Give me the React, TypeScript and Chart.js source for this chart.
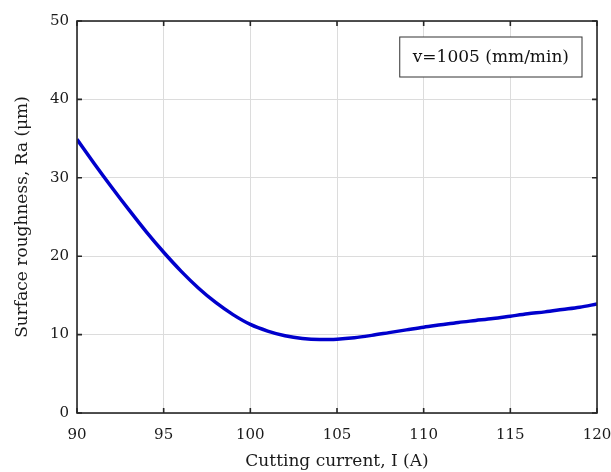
import React, { useEffect, useRef } from "react";
import { Chart, registerables } from "chart.js";

Chart.register(...registerables);

const currents = [90, 91, 92, 93, 94, 95, 96, 97, 98, 99, 100, 101, 102, 103, 104, 105, 106, 107, 108, 109, 110, 111, 112, 113, 114, 115, 116, 117, 118, 119, 120];
const roughness = [34.9, 31.8, 28.8, 25.9, 23.1, 20.5, 18.1, 15.95, 14.1, 12.55, 11.3, 10.45, 9.85, 9.5, 9.38, 9.42, 9.6, 9.9, 10.25, 10.6, 10.95, 11.25, 11.55, 11.8, 12.05, 12.35, 12.65, 12.9, 13.2, 13.5, 13.9];
const xTicks = [90, 95, 100, 105, 110, 115, 120];
const yTicks = [0, 10, 20, 30, 40, 50];
const legendText = "v=1005 (mm/min)";
const xTitle = "Cutting current, I (A)";
const yTitle = "Surface roughness, Ra (\u03bcm)";

const FONT = "'DejaVu Serif', serif";

const framePlugin = {
  id: "frame",
  afterDraw(chart: any) {
    const { ctx, chartArea } = chart;
    const { left, right, top, bottom } = chartArea;
    const xs = chart.scales.x;
    const ys = chart.scales.y;
    ctx.save();
    ctx.strokeStyle = "#262626";
    ctx.lineWidth = 1.6;
    ctx.strokeRect(left, top, right - left, bottom - top);
    const tl = 5;
    ctx.beginPath();
    xTicks.forEach((v) => {
      const px = xs.getPixelForValue(v);
      ctx.moveTo(px, bottom);
      ctx.lineTo(px, bottom - tl);
      ctx.moveTo(px, top);
      ctx.lineTo(px, top + tl);
    });
    yTicks.forEach((v) => {
      const py = ys.getPixelForValue(v);
      ctx.moveTo(left, py);
      ctx.lineTo(left + tl, py);
      ctx.moveTo(right, py);
      ctx.lineTo(right - tl, py);
    });
    ctx.stroke();
    // legend box
    ctx.font = `17px ${FONT}`;
    const tw = ctx.measureText(legendText).width;
    const bw = tw + 26;
    const bh = 40;
    const bx = right - 15 - bw;
    const by = top + 16;
    ctx.fillStyle = "#ffffff";
    ctx.fillRect(bx, by, bw, bh);
    ctx.strokeStyle = "#333333";
    ctx.lineWidth = 1;
    ctx.strokeRect(bx, by, bw, bh);
    ctx.fillStyle = "#111111";
    ctx.textBaseline = "middle";
    ctx.textAlign = "left";
    ctx.fillText(legendText, bx + 13, by + bh / 2 + 1);
    ctx.restore();
  },
};

export default function App() {
  const ref = useRef<HTMLCanvasElement>(null);
  useEffect(() => {
    document.body.style.margin = "0";
    const chart = new Chart(ref.current!, {
      type: "line",
      data: {
        datasets: [
          {
            data: currents.map((c, i) => ({ x: c, y: roughness[i] })),
            borderColor: "#0000cc",
            borderWidth: 3.5,
            pointRadius: 0,
            cubicInterpolationMode: "monotone",
            fill: false,
          },
        ],
      },
      options: {
        animation: false,
        responsive: false,
        maintainAspectRatio: false,
        layout: { padding: { left: 0, right: 14, top: 21, bottom: 0 } },
        plugins: { legend: { display: false }, tooltip: { enabled: false } },
        scales: {
          x: {
            type: "linear",
            min: 90,
            max: 120,
            afterBuildTicks: (s: any) => {
              s.ticks = xTicks.map((v) => ({ value: v }));
            },
            afterFit: (s: any) => {
              s.height = 59;
              s.paddingRight = 0;
              s.paddingLeft = 0;
            },
            grid: { color: "#dcdcdc", lineWidth: 1, drawTicks: false },
            border: { display: false },
            ticks: { color: "#1a1a1a", font: { family: FONT, size: 15 }, padding: 13, maxRotation: 0 },
            title: { display: true, text: xTitle, color: "#1a1a1a", font: { family: FONT, size: 17 }, padding: { top: 0, bottom: 0 } },
          },
          y: {
            min: 0,
            max: 50,
            afterBuildTicks: (s: any) => {
              s.ticks = yTicks.map((v) => ({ value: v }));
            },
            afterFit: (s: any) => {
              s.width = 77;
              s.paddingTop = 0;
              s.paddingBottom = 0;
            },
            grid: { color: "#dcdcdc", lineWidth: 1, drawTicks: false },
            border: { display: false },
            ticks: { color: "#1a1a1a", font: { family: FONT, size: 15 }, padding: 8 },
            title: { display: true, text: yTitle, color: "#1a1a1a", font: { family: FONT, size: 17 }, padding: { top: 12, bottom: 0 } },
          },
        },
      },
      plugins: [framePlugin],
    } as any);
    return () => chart.destroy();
  }, []);
  return (
    <div style={{ position: "fixed", left: 0, top: 0, width: 611, height: 472, background: "#fff" }}>
      <canvas ref={ref} width={611} height={472} style={{ width: 611, height: 472 }} />
    </div>
  );
}
